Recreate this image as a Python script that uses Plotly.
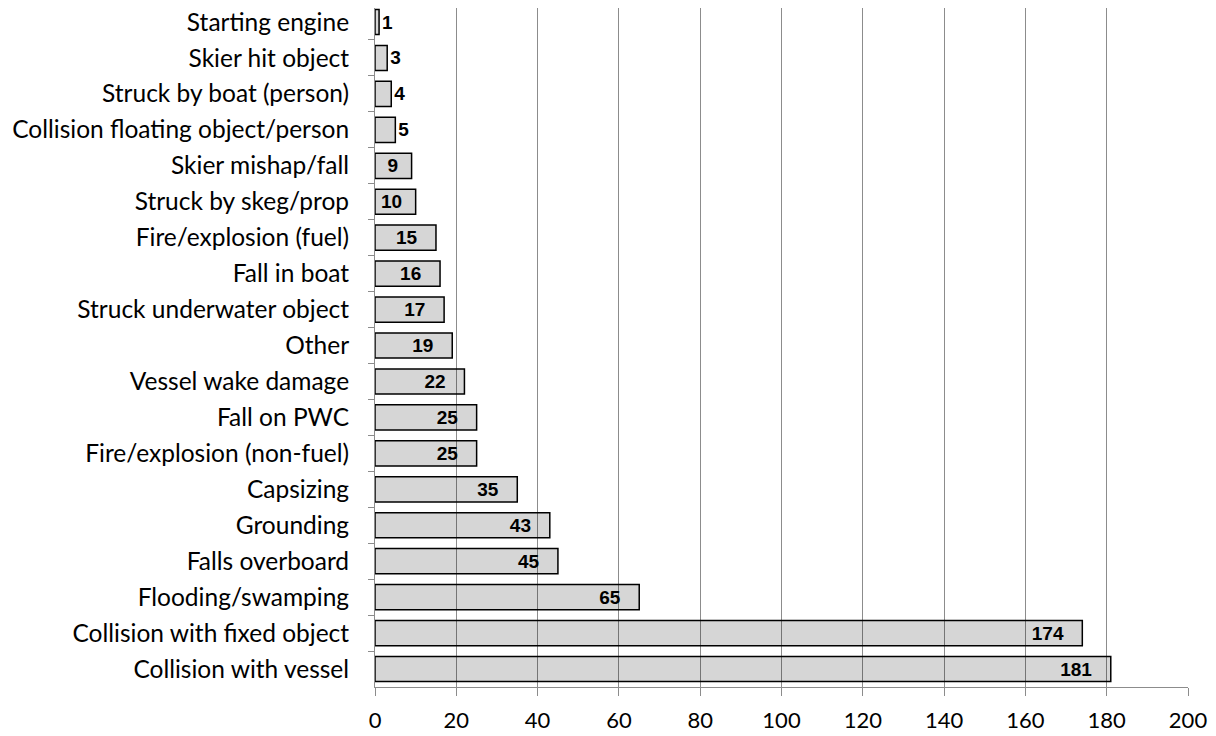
import plotly.graph_objects as go

# categories top to bottom as shown in the chart
categories = [
    "Starting engine", "Skier hit object", "Struck by boat (person)",
    "Collision floating object/person", "Skier mishap/fall", "Struck by skeg/prop",
    "Fire/explosion (fuel)", "Fall in boat", "Struck underwater object", "Other",
    "Vessel wake damage", "Fall on PWC", "Fire/explosion (non-fuel)", "Capsizing",
    "Grounding", "Falls overboard", "Flooding/swamping",
    "Collision with fixed object", "Collision with vessel",
]
counts = [1, 3, 4, 5, 9, 10, 15, 16, 17, 19, 22, 25, 25, 35, 43, 45, 65, 174, 181]
x_ticks = [0, 20, 40, 60, 80, 100, 120, 140, 160, 180, 200]

# small bars get their label outside, others sit inside near the end
positions = ["outside" if v <= 5 else "inside" for v in counts]
labels = []
for v in counts:
    if v <= 5:
        labels.append(str(v))
    elif v < 15:
        labels.append(str(v) + "&nbsp;&nbsp;")
    else:
        labels.append(str(v) + "&nbsp;&nbsp;&nbsp;")

fig = go.Figure(go.Bar(
    x=counts,
    y=categories,
    orientation="h",
    marker=dict(color="rgba(0,0,0,0.16)", line=dict(color="black", width=1.5)),
    text=labels,
    textposition=positions,
    insidetextanchor="end",
    constraintext="none",
    textfont=dict(family="Liberation Sans", size=19, color="black", weight="bold"),
    cliponaxis=False,
))

# page body adds an 8px offset, margins account for it
fig.update_layout(
    width=1216, height=736,
    margin=dict(l=367, r=36, t=0, b=57),
    paper_bgcolor="white", plot_bgcolor="white",
    bargap=0.3,
    showlegend=False,
)

fig.update_xaxes(
    range=[0, 200], tickvals=x_ticks, automargin=False,
    showgrid=True, gridcolor="#8c8c8c", gridwidth=1,
    showline=True, linecolor="#8c8c8c", linewidth=1,
    ticks="outside", ticklen=8, tickcolor="#8c8c8c",
    tickfont=dict(family="Lato", size=22, color="black"),
    ticklabelstandoff=6,
    zeroline=False,
)
fig.update_yaxes(
    categoryorder="array", categoryarray=categories, range=[18.5, -0.39],
    automargin=False,
    showline=True, linecolor="#8c8c8c", linewidth=1,
    ticks="outside", ticklen=6, tickcolor="#8c8c8c", tickson="boundaries",
    tickfont=dict(family="Lato", size=24.5, color="black"),
    ticklabelstandoff=20,
    showgrid=False,
)

fig.write_html("out.html")
